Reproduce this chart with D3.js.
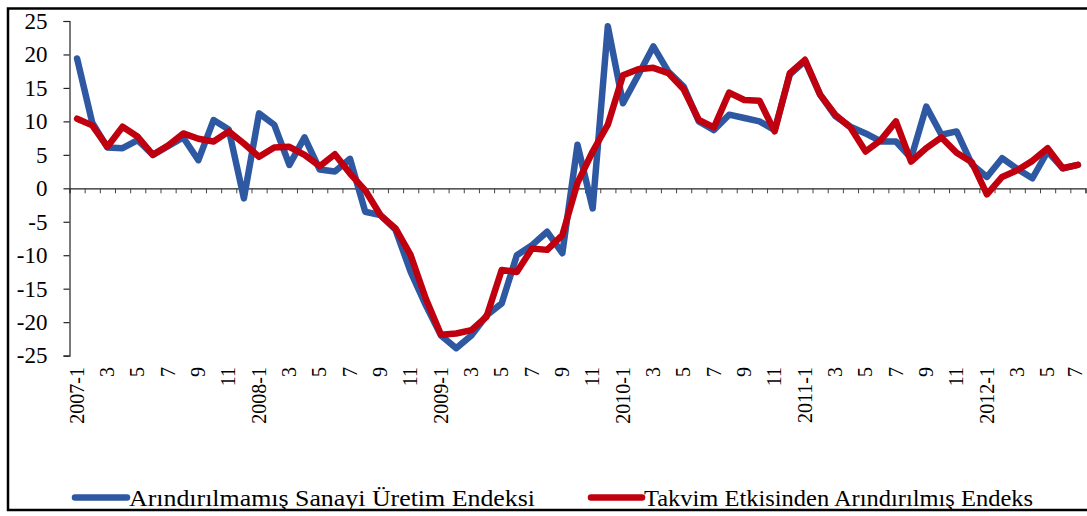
<!DOCTYPE html>
<html>
<head>
<meta charset="utf-8">
<script src="https://cdn.jsdelivr.net/npm/d3@7"></script>
<style>
  html, body { margin: 0; padding: 0; background: #fff; }
  svg { display: block; }
  text { font-family: "Liberation Serif", "Times New Roman", serif; }
</style>
</head>
<body>
<svg id="chart" width="1087" height="516"></svg>
<script>
const categories = [
  "2007-1","2007-2","2007-3","2007-4","2007-5","2007-6","2007-7","2007-8","2007-9","2007-10","2007-11","2007-12",
  "2008-1","2008-2","2008-3","2008-4","2008-5","2008-6","2008-7","2008-8","2008-9","2008-10","2008-11","2008-12",
  "2009-1","2009-2","2009-3","2009-4","2009-5","2009-6","2009-7","2009-8","2009-9","2009-10","2009-11","2009-12",
  "2010-1","2010-2","2010-3","2010-4","2010-5","2010-6","2010-7","2010-8","2010-9","2010-10","2010-11","2010-12",
  "2011-1","2011-2","2011-3","2011-4","2011-5","2011-6","2011-7","2011-8","2011-9","2011-10","2011-11","2011-12",
  "2012-1","2012-2","2012-3","2012-4","2012-5","2012-6","2012-7"
];
const tickLabels = {
  "2007-1":"2007-1","2007-3":"3","2007-5":"5","2007-7":"7","2007-9":"9","2007-11":"11",
  "2008-1":"2008-1","2008-3":"3","2008-5":"5","2008-7":"7","2008-9":"9","2008-11":"11",
  "2009-1":"2009-1","2009-3":"3","2009-5":"5","2009-7":"7","2009-9":"9","2009-11":"11",
  "2010-1":"2010-1","2010-3":"3","2010-5":"5","2010-7":"7","2010-9":"9","2010-11":"11",
  "2011-1":"2011-1","2011-3":"3","2011-5":"5","2011-7":"7","2011-9":"9","2011-11":"11",
  "2012-1":"2012-1","2012-3":"3","2012-5":"5","2012-7":"7"
};
const yTicks = [-25, -20, -15, -10, -5, 0, 5, 10, 15, 20, 25];

const seriesNames = ["Arındırılmamış Sanayi Üretim Endeksi", "Takvim Etkisinden Arındırılmış Endeks"];

const unadjusted = [
  19.4, 9.8, 6.1, 6.0, 7.2, 5.0, 6.3, 7.6, 4.2, 10.2, 8.8, -1.5,
  11.2, 9.5, 3.5, 7.6, 2.8, 2.5, 4.4, -3.5, -4.0, -6.2, -12.5, -17.5,
  -22.0, -23.9, -22.0, -19.0, -17.2, -10.0, -8.5, -6.5, -9.7, 6.5, -3.0, 24.2,
  12.7, 16.9, 21.2, 17.4, 15.2, 10.0, 8.7, 11.0, 10.5, 10.0, 8.7, 17.0,
  19.0, 14.0, 10.8, 9.2, 8.2, 7.0, 7.0, 4.5, 12.2, 8.0, 8.5, 3.6,
  1.7, 4.5, 2.9, 1.5, 5.5, 3.0, 3.5
];
const calendarAdjusted = [
  10.4, 9.4, 6.2, 9.2, 7.7, 5.0, 6.4, 8.2, 7.4, 7.0, 8.5, 6.7,
  4.7, 6.1, 6.2, 5.0, 3.3, 5.1, 2.2, -0.3, -4.0, -6.0, -10.0, -16.5,
  -21.9, -21.7, -21.2, -19.2, -12.2, -12.5, -9.0, -9.2, -7.0, 0.8, 5.5, 9.5,
  16.9, 17.8, 18.0, 17.2, 14.8, 10.2, 9.1, 14.3, 13.2, 13.1, 8.5, 17.2,
  19.2, 14.0, 11.0, 9.1, 5.5, 7.2, 10.0, 4.0, 6.0, 7.6, 5.3, 3.9,
  -0.9, 1.7, 2.7, 4.1, 6.0, 3.0, 3.5
];
const colors = ["#2e58a2", "#c0000f"];

const svg = d3.select("#chart");

// frame
svg.append("path")
  .attr("d", "M1090,8.5 H8 V510 H1090")
  .attr("fill", "none").attr("stroke", "#000").attr("stroke-width", 2.5);

const plotLeft = 69.5, plotRight = 1085.5, plotTop = 21, plotBottom = 355.6;
const x = d3.scaleBand().domain(categories).range([plotLeft, plotRight]).paddingInner(0).paddingOuter(0);
const y = d3.scaleLinear().domain([-25, 25]).range([plotBottom, plotTop]);

// y axis
const yAxis = svg.append("g")
  .attr("transform", `translate(${plotLeft},0)`)
  .call(d3.axisLeft(y).tickValues(yTicks).tickSize(6).tickPadding(16).tickFormat(d3.format("d")));
yAxis.attr("font-family", null);
yAxis.select(".domain").attr("stroke", "#222").attr("stroke-width", 1.2);
yAxis.selectAll(".tick line").attr("stroke", "#222").attr("stroke-width", 1.2);
yAxis.selectAll(".tick text")
  .attr("font-size", 23).attr("fill", "#000")
  .text(d => d < 0 ? "-" + Math.abs(d) : d);

// x axis at zero, ticks at category boundaries
const xb = d3.scaleLinear().domain([0, categories.length]).range([plotLeft, plotRight]);
const xAxis = svg.append("g")
  .attr("transform", `translate(0,${y(0)})`)
  .call(d3.axisBottom(xb).tickValues(d3.range(1, categories.length + 1)).tickSize(5).tickFormat(""));
xAxis.select(".domain").attr("stroke", "#222").attr("stroke-width", 1.2);
xAxis.selectAll(".tick line").attr("stroke", "#444").attr("stroke-width", 1);

// x labels at the bottom, rotated
const labelY = 367;
svg.append("g").selectAll("text")
  .data(categories.filter(c => tickLabels[c] !== undefined))
  .join("text")
  .attr("transform", d => `translate(${Math.min(x(d) + x.bandwidth() / 2, 1075)},${labelY}) rotate(-90)`)
  .attr("text-anchor", "end")
  .attr("dy", "0.33em")
  .attr("font-size", 20).attr("fill", "#000")
  .text(d => tickLabels[d]);

// lines
const line = d3.line()
  .x((d, i) => x(categories[i]) + x.bandwidth() / 2)
  .y(d => y(d));

[unadjusted, calendarAdjusted].forEach((s, k) => {
  svg.append("path")
    .datum(s)
    .attr("d", line)
    .attr("fill", "none")
    .attr("stroke", colors[k])
    .attr("stroke-width", 6.5)
    .attr("stroke-linejoin", "round")
    .attr("stroke-linecap", "round");
});

// legend
const legendItems = [
  { x1: 75, x2: 127, tx: 129, w: 406 },
  { x1: 591, x2: 642, tx: 644, w: 389 }
];
legendItems.forEach((it, k) => {
  svg.append("line")
    .attr("x1", it.x1).attr("x2", it.x2).attr("y1", 497.5).attr("y2", 497.5)
    .attr("stroke", colors[k]).attr("stroke-width", 6.5).attr("stroke-linecap", "round");
  svg.append("text")
    .attr("x", it.tx).attr("y", 505.5)
    .attr("font-size", 23.5).attr("fill", "#000")
    .attr("textLength", it.w).attr("lengthAdjust", "spacingAndGlyphs")
    .text(seriesNames[k]);
});
</script>
</body>
</html>
